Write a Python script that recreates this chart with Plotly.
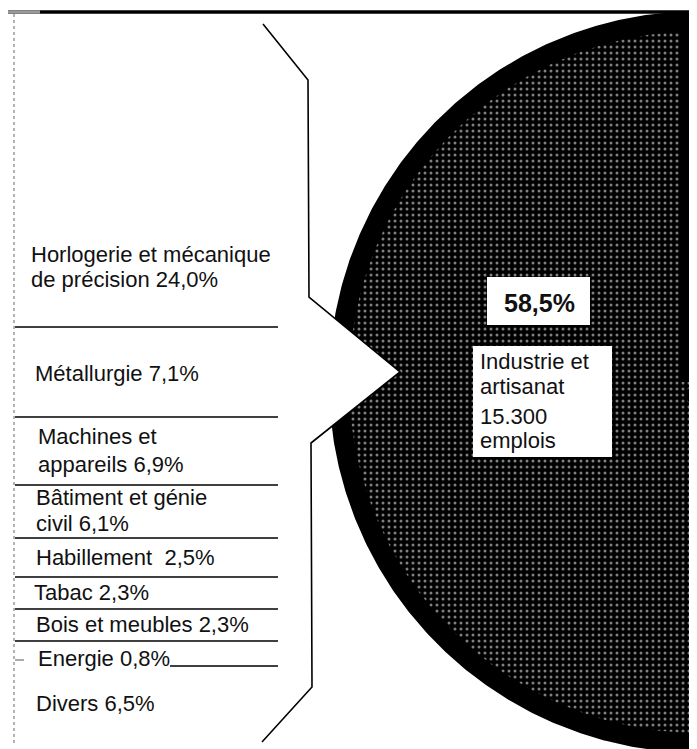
import numpy as np
import plotly.graph_objects as go

# ---------------- data ----------------
categories = [
    "Horlogerie et mécanique|de précision",
    "Métallurgie",
    "Machines et|appareils",
    "Bâtiment et génie|civil",
    "Habillement ",
    "Tabac",
    "Bois et meubles",
    "Energie",
    "Divers",
]
shares = [24.0, 7.1, 6.9, 6.1, 2.5, 2.3, 2.3, 0.8, 6.5]
sector_name = "Industrie et|artisanat"
sector_share = 58.5
sector_jobs = 15300


def pct(v):
    return f"{v:.1f}".replace(".", ",") + "%"


# ---------------- layout geometry (pixel space of the page) ----------------
W, H = 697, 749
OFF = 8  # browser body margin
CX, CY, R = 700.0, 382.0, 371.0
RING = 20.0
FONT = "Liberation Sans, Arial, sans-serif"
FS = 22

fig = go.Figure()

# slice angles (clockwise from 12 o'clock; negative = counter-clockwise)
phi_end = 0.0
phi_start = -sector_share / 100.0 * 360.0


def wedge(radius):
    ph = np.radians(np.linspace(phi_start, phi_end, 500))
    xs = np.concatenate([[CX], CX + radius * np.sin(ph), [CX]])
    ys = np.concatenate([[CY], CY - radius * np.cos(ph), [CY]])
    return xs, ys


xo, yo = wedge(R)
fig.add_trace(go.Scatter(x=xo, y=yo, mode="lines", fill="toself",
                         fillcolor="black", line=dict(width=0),
                         hoverinfo="skip", showlegend=False))
xi, yi = wedge(R - RING)
fig.add_trace(go.Scatter(x=xi, y=yi, mode="lines", fill="toself",
                         fillcolor="black", line=dict(width=0),
                         fillpattern=dict(shape=".", fgcolor="white",
                                          bgcolor="black", size=6,
                                          solidity=0.2),
                         hoverinfo="skip", showlegend=False))
# thick black borders along the two radial edges
for ph in (phi_start, phi_end):
    a = np.radians(ph)
    fig.add_trace(go.Scatter(x=[CX, CX + R * np.sin(a)],
                             y=[CY, CY - R * np.cos(a)],
                             mode="lines", line=dict(color="black", width=2 * RING),
                             hoverinfo="skip", showlegend=False))

shapes = []
# page frame (scan edges)
shapes.append(dict(type="line", x0=8, x1=W, y0=12, y1=12,
                   line=dict(color="black", width=3.5)))
shapes.append(dict(type="line", x0=8, x1=40, y0=12, y1=12,
                   line=dict(color="#999", width=3.5)))
shapes.append(dict(type="line", x0=14, x1=14, y0=14, y1=746,
                   line=dict(color="#9a9a9a", width=1.5, dash="dot")))

# white arrow + bracket
shapes.append(dict(type="path", path="M 309,297 L 400,372 L 311,443 Z",
                   fillcolor="white", line=dict(width=0)))
shapes.append(dict(type="path",
                   path="M 263,24 L 308,80 L 309,297 L 400,372 L 311,443 L 312,687 L 262,742",
                   line=dict(color="black", width=1.6)))

# separators
sep_y = [327, 417, 485, 538, 577, 609, 641]
for y in sep_y:
    shapes.append(dict(type="line", x0=15, x1=278, y0=y, y1=y,
                       line=dict(color="black", width=1.5)))
shapes.append(dict(type="line", x0=170, x1=278, y0=666, y1=666,
                   line=dict(color="black", width=1.5)))
shapes.append(dict(type="line", x0=15, x1=24, y0=660, y1=660,
                   line=dict(color="#555", width=1)))

# white boxes on the slice
shapes.append(dict(type="rect", x0=487, x1=590, y0=277, y1=325,
                   fillcolor="white", line=dict(width=0)))
shapes.append(dict(type="rect", x0=473, x1=612, y0=346, y1=457,
                   fillcolor="white", line=dict(width=0)))

annotations = []
label_y = [[254, 279], [373], [436, 464], [497, 523], [557], [592], [624], [658], [703]]
label_x = [30, 34, 37, 35, 35, 33, 35, 37, 35]
for name, v, ys, x in zip(categories, shares, label_y, label_x):
    lines = name.split("|")
    lines[-1] = lines[-1] + " " + pct(v)
    for txt, y in zip(lines, ys):
        annotations.append(dict(x=x, y=y, text=txt, showarrow=False,
                                xanchor="left", yanchor="middle", borderpad=0,
                                font=dict(family=FONT, size=FS, color="#111")))

annotations.append(dict(x=539, y=303, text="<b>" + pct(sector_share) + "</b>",
                        showarrow=False, xanchor="center", yanchor="middle",
                        font=dict(family=FONT, size=25, color="#111")))
box_lines = sector_name.split("|") + [f"{sector_jobs:,}".replace(",", "."), "emplois"]
for txt, y in zip(box_lines, [361, 386, 416, 440]):
    annotations.append(dict(x=479, y=y, text=txt, showarrow=False,
                            xanchor="left", yanchor="middle", borderpad=0,
                            font=dict(family=FONT, size=FS, color="#111")))

fig.update_layout(
    width=W - OFF, height=H - OFF,
    margin=dict(l=0, r=0, t=0, b=0),
    paper_bgcolor="white", plot_bgcolor="white",
    xaxis=dict(range=[OFF, W], visible=False, fixedrange=True),
    yaxis=dict(range=[H, OFF], visible=False, fixedrange=True),
    shapes=shapes, annotations=annotations, showlegend=False,
)

fig.write_html("out.html")
